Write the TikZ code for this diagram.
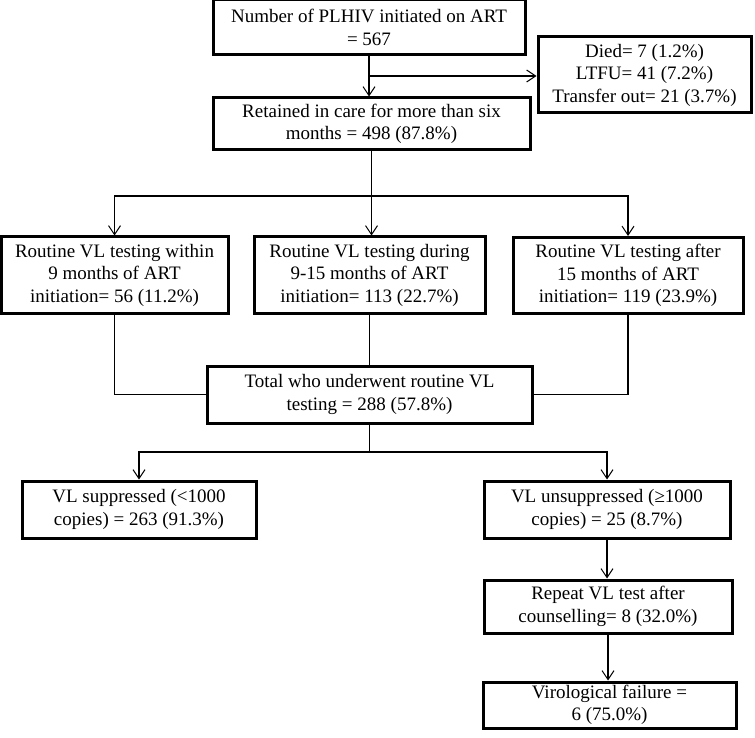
\documentclass[tikz,border=0pt]{standalone}
\usepackage{fontspec}
\setmainfont{Liberation Serif}
\usetikzlibrary{arrows.meta}

\begin{document}
\begin{tikzpicture}[x=1pt, y=-1pt,
    every node/.style={font=\fontsize{19}{22.5}\selectfont},
    flowbox/.style={draw, line width=3pt, align=center, inner sep=0pt},
    link/.style={line width=1.2pt},
    arr/.style={link, -{Straight Barb[length=9pt, width=12pt, line width=1pt]}}]

    \useasboundingbox (0,0) rectangle (755,738);

    % Initiated on ART (init)
    \node [flowbox, minimum width=312, minimum height=55] (init) at (369,27.5)
        {Number of PLHIV initiated on ART\\= 567};
    % Lost (exits)
    \node [flowbox, minimum width=213, minimum height=76] (exits) at (644.5,75)
        {Died= 7 (1.2\%)\\LTFU= 41 (7.2\%)\\Transfer out= 21 (3.7\%)};
    % Retained (retained)
    \node [flowbox, minimum width=317, minimum height=52] (retained) at (371.5,124)
        {Retained in care for more than six\\months = 498 (87.8\%)};

    % Three timing groups
    \node [flowbox, minimum width=227, minimum height=76] (within) at (114.5,275)
        {Routine VL testing within\\9 months of ART\\initiation= 56 (11.2\%)};
    \node [flowbox, minimum width=231, minimum height=76] (during) at (369.5,275)
        {Routine VL testing during\\9-15 months of ART\\initiation= 113 (22.7\%)};
    \node [flowbox, minimum width=230, minimum height=76] (after) at (628,275.5)
        {Routine VL testing after\\15 months of ART\\initiation= 119 (23.9\%)};

    % Total tested (total)
    \node [flowbox, minimum width=325, minimum height=57] (total) at (369.5,394.5)
        {Total who underwent routine VL\\testing = 288 (57.8\%)};

    % Results
    \node [flowbox, minimum width=234, minimum height=57] (supp) at (139,509.5)
        {VL suppressed (<1000\\copies) = 263 (91.3\%)};
    \node [flowbox, minimum width=246, minimum height=57] (unsupp) at (607,509.5)
        {VL unsuppressed (≥1000\\copies) = 25 (8.7\%)};
    \node [flowbox, minimum width=248, minimum height=53] (repeat) at (608,606.5)
        {Repeat VL test after\\counselling= 8 (32.0\%)};
    \node [flowbox, minimum width=253, minimum height=46] (fail) at (609.5,705)
        {Virological failure =\\6 (75.0\%)};

    % Connectors
    \coordinate (lostsplit) at (init.south |- 0,76);
    \coordinate (groupsplit) at (retained.south |- 0,196);
    \coordinate (resultsplit) at (total.south |- 0,452);

    \draw [arr] (init.south) -- (init.south |- retained.north);
    \draw [arr] (lostsplit) -- (exits.west |- lostsplit);
    \draw [link] (retained.south) -- (groupsplit);
    \draw [arr] (groupsplit) -| (within.north);
    \draw [arr] (groupsplit) -- (groupsplit |- during.north);
    \draw [arr] (groupsplit) -| (after.north);
    \draw [link] (within.south) |- (total.west);
    \draw [link] (during.south) -- (during.south |- total.north);
    \draw [link] (after.south) |- (total.east);
    \draw [link] (total.south) -- (resultsplit);
    \draw [arr] (resultsplit) -| (supp.north);
    \draw [arr] (resultsplit) -| (unsupp.north);
    \draw [arr] (unsupp.south) -- (unsupp.south |- repeat.north);
    \draw [arr] (repeat.south) -- (repeat.south |- fail.north);

\end{tikzpicture}
\end{document}
